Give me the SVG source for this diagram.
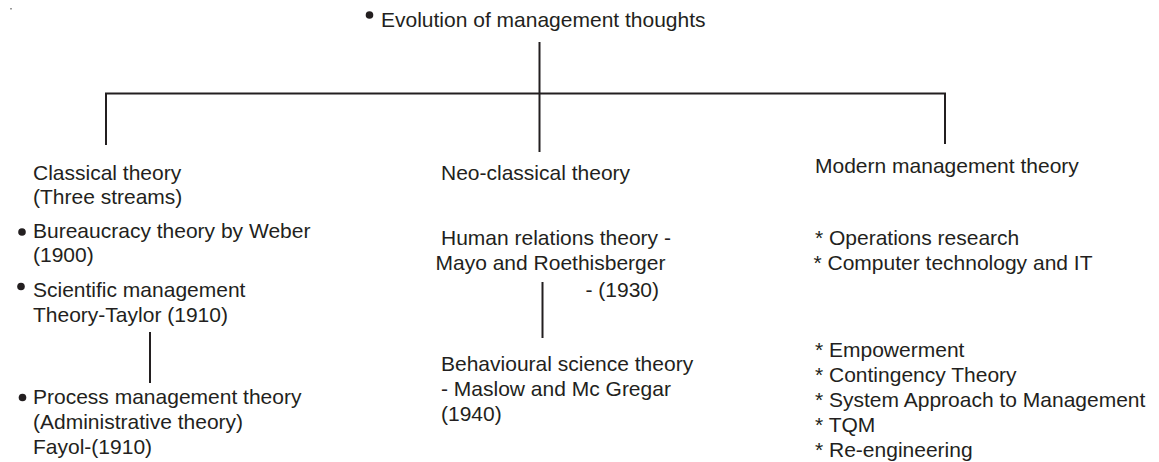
<svg xmlns="http://www.w3.org/2000/svg" width="1159" height="462" viewBox="0 0 1159 462">
<style>
text{font-family:"Liberation Sans",Arial,sans-serif;font-size:21px;fill:#231f20}
.ln{stroke:#231f20;stroke-width:2;fill:none}
.dot{fill:#231f20}
</style>
<rect width="1159" height="462" fill="#fff"/>
<rect x="10" y="8" width="2" height="1.5" fill="#999"/>
<g id="connectors">
<line class="ln" x1="539.5" y1="42" x2="539.5" y2="152"/>
<polyline class="ln" points="106,145 106,93.5 945,93.5 945,144"/>
<line class="ln" x1="150" y1="332" x2="150" y2="383"/>
<line class="ln" x1="542.5" y1="282" x2="542.5" y2="338"/>
</g>
<g id="root">
<circle class="dot" cx="369.5" cy="15" r="3.8"/>
<text x="381" y="26.5">Evolution of management thoughts</text>
</g>
<g id="classical">
<text x="33" y="179.5">Classical theory</text>
<text x="33" y="203.5">(Three streams)</text>
</g>
<g id="bureaucracy">
<circle class="dot" cx="22" cy="232" r="3.8"/>
<text x="33" y="237.5">Bureaucracy theory by Weber</text>
<text x="33" y="262">(1900)</text>
</g>
<g id="scientific">
<circle class="dot" cx="21" cy="286.5" r="3.8"/>
<text x="33" y="297">Scientific management</text>
<text x="33" y="322">Theory-Taylor (1910)</text>
</g>
<g id="process">
<circle class="dot" cx="22.5" cy="397.5" r="3.8"/>
<text x="33" y="404">Process management theory</text>
<text x="33" y="429">(Administrative theory)</text>
<text x="33" y="454">Fayol-(1910)</text>
</g>
<g id="neoclassical">
<text x="441" y="180">Neo-classical theory</text>
</g>
<g id="human">
<text x="441" y="245">Human relations theory -</text>
<text x="435.5" y="270">Mayo and Roethisberger</text>
<text x="585.5" y="297">- (1930)</text>
</g>
<g id="behavioural">
<text x="441" y="371">Behavioural science theory</text>
<text x="441" y="396">- Maslow and Mc Gregar</text>
<text x="441" y="421">(1940)</text>
</g>
<g id="modern">
<text x="815" y="172.5">Modern management theory</text>
</g>
<g id="modern-1">
<text x="815" y="245">* Operations research</text>
<text x="813.5" y="269.5">* Computer technology and IT</text>
</g>
<g id="modern-2">
<text x="815" y="356.5">* Empowerment</text>
<text x="815" y="381.5">* Contingency Theory</text>
<text x="815" y="406.5">* System Approach to Management</text>
<text x="815" y="431.5">* TQM</text>
<text x="815" y="456.5">* Re-engineering</text>
</g>
</svg>
